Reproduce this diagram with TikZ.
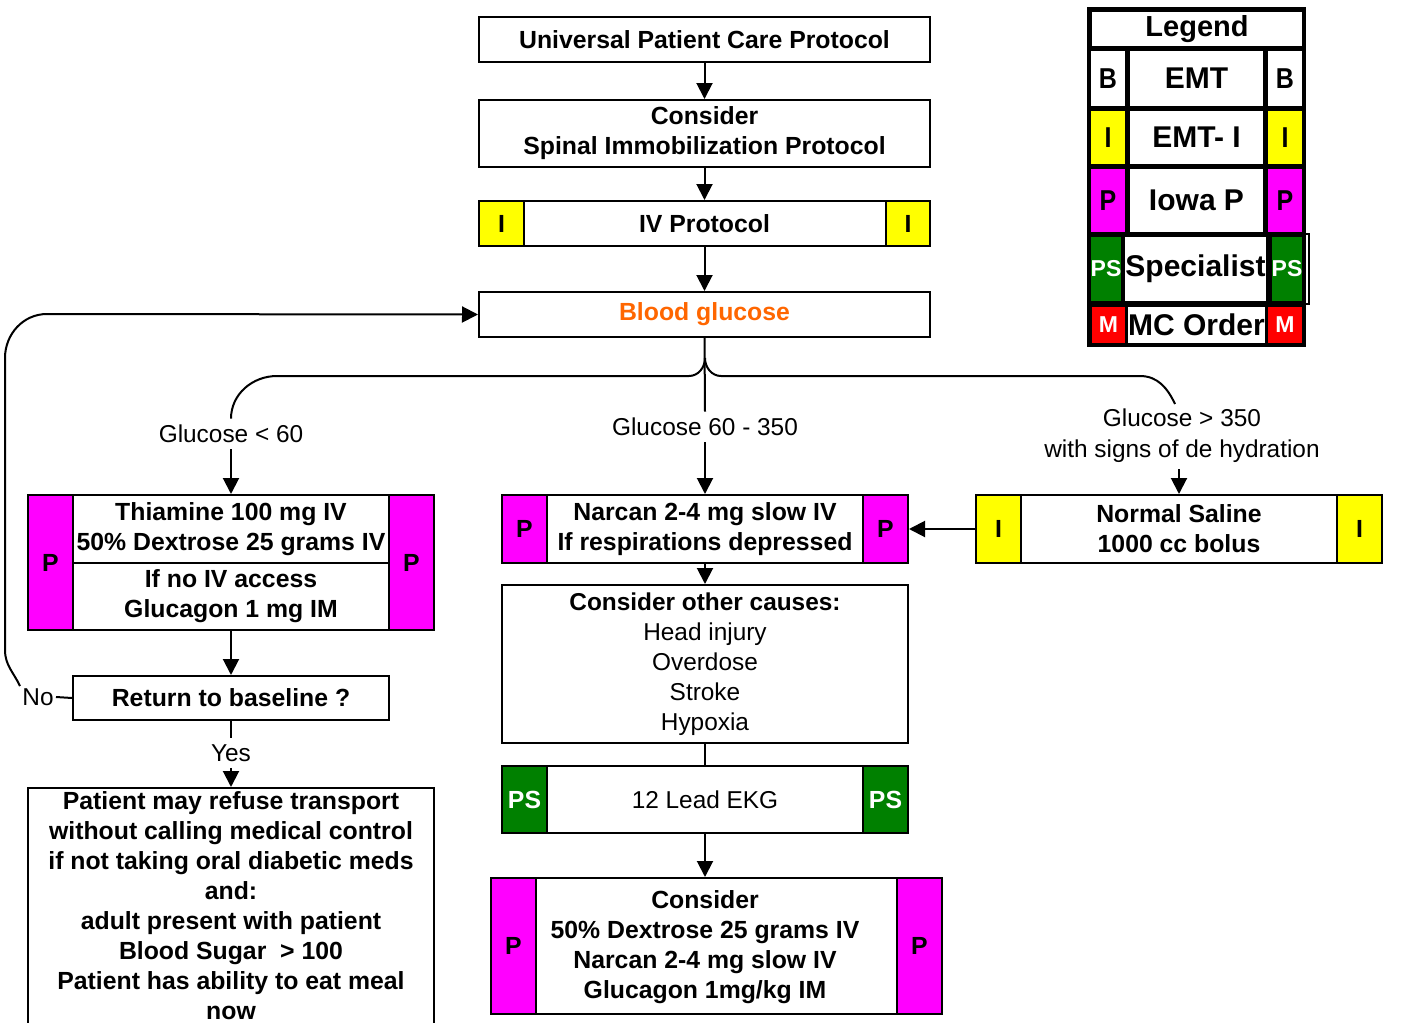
\documentclass[tikz,border=0pt]{standalone}
\usepackage{fontspec}
\usepackage{graphicx}
\setmainfont{Liberation Sans}
\usetikzlibrary{arrows.meta}
\definecolor{mag}{RGB}{255,0,255}
\definecolor{yel}{RGB}{255,255,0}
\definecolor{grn}{RGB}{0,128,0}
\definecolor{rd}{RGB}{255,0,0}
\definecolor{org}{RGB}{255,102,0}
\newcommand{\tallch}[1]{\scalebox{1}[1.15]{#1}}
\begin{document}
\begin{tikzpicture}[x=0.5pt,y=-0.5pt,
  px/.style 2 args={minimum width=#1*0.5pt, minimum height=#2*0.5pt},
  box/.style={draw=black, line width=1pt, fill=white, inner sep=0pt, align=center, font=\bfseries\fontsize{12.4}{15}\selectfont},
  tab/.style={draw=black, line width=1pt, inner sep=0pt, font=\bfseries\fontsize{12.4}{15}\selectfont},
  txt/.style={inner sep=0pt, align=center, font=\bfseries\fontsize{12.4}{15}\selectfont},
  lbl/.style={inner sep=3pt, align=center, font=\fontsize{12.2}{15.5}\selectfont},
  arr/.style={line width=1pt, -{Triangle[length=8pt,width=8pt]}},
  ln/.style={line width=1pt},
  lcell/.style={fill=white, inner sep=0pt, font=\bfseries\fontsize{15}{18}\selectfont},
  ltab/.style={inner sep=0pt, font=\bfseries\fontsize{12.5}{14}\selectfont},
]
\useasboundingbox (0,0) rectangle (1405,1023);

% ---- main column
\node[box,px={451}{45}] (univ) at (704.5,39.5) {Universal Patient Care Protocol};
\node[box,px={451}{67}] (spinal) at (704.5,133.5) {Consider\\Spinal Immobilization Protocol};
\node[box,px={451}{45}] (ivp) at (704.5,223.5) {IV Protocol};
\node[tab,fill=yel,px={45}{45}] (ivpL) at (501.5,223.5) {I};
\node[tab,fill=yel,px={44}{45}] (ivpR) at (908,223.5) {I};
\node[box,px={451}{45},text=org] (bg) at (704.5,314.5) {Blood glucose};

% ---- left branch
\node[box,px={406}{135}] (thia) at (231,562.5) {};
\node[tab,fill=mag,px={45}{135}] (thiaL) at (50.5,562.5) {P};
\node[tab,fill=mag,px={45}{135}] (thiaR) at (411.5,562.5) {P};
\node[box,px={316}{68}] (thiaA) at (231,529) {Thiamine 100 mg IV\\50\% Dextrose 25 grams IV};
\node[box,px={316}{67}] (thiaB) at (231,596.5) {If no IV access\\Glucagon 1 mg IM};
\node[box,px={316}{44}] (ret) at (231,698) {Return to baseline ?};
\node[box,px={406}{262}] (refuse) at (231,919) {};
\node[txt] (refuseT) at (231,906) {Patient may refuse transport\\without calling medical control\\if not taking oral diabetic meds\\and:\\adult present with patient\\Blood Sugar \ > 100\\Patient has ability to eat meal\\now};

% ---- middle branch
\node[box,px={406}{68}] (narcan) at (705,529) {Narcan 2-4 mg slow IV\\If respirations depressed};
\node[tab,fill=mag,px={45}{68}] (narcanL) at (524.5,529) {P};
\node[tab,fill=mag,px={45}{68}] (narcanR) at (885.5,529) {P};
\node[box,px={406}{158},font=\fontsize{12.2}{15}\selectfont] (other) at (705,664) {\textbf{Consider other causes:}\\Head injury\\Overdose\\Stroke\\Hypoxia};
\node[box,px={406}{67},font=\fontsize{12.2}{15}\selectfont] (ekg) at (705,799.5) {12 Lead EKG};
\node[tab,fill=grn,text=white,px={45}{67}] (ekgL) at (524.5,799.5) {PS};
\node[tab,fill=grn,text=white,px={45}{67}] (ekgR) at (885.5,799.5) {PS};
\node[box,px={451}{136}] (c2) at (716.5,946) {};
\node[tab,fill=mag,px={45}{136}] (c2L) at (513.5,946) {P};
\node[tab,fill=mag,px={45}{136}] (c2R) at (919.5,946) {P};
\node[txt] (c2T) at (705,947) {Consider\\50\% Dextrose 25 grams IV\\Narcan 2-4 mg slow IV\\Glucagon 1mg/kg IM};

% ---- right branch
\node[box,px={406}{68}] (saline) at (1179,529) {Normal Saline\\1000 cc bolus};
\node[tab,fill=yel,px={45}{68}] (salineL) at (998.5,529) {I};
\node[tab,fill=yel,px={45}{68}] (salineR) at (1359.5,529) {I};

% ---- labels
\node[lbl] (g1) at (231,434) {Glucose < 60};
\node[lbl] (g2) at (705,427) {Glucose 60 - 350};
\node[lbl] (g3) at (1182,436) {Glucose > 350\\with signs of de hydration};
\node[lbl] (yes) at (231,753) {Yes};
\node[lbl,inner sep=1pt] (no) at (38,697) {No};
\coordinate (split) at (705,358);
\coordinate (g3top) at (1175,404);

% ---- connectors
\draw[arr] (univ.south) -- (spinal.north);
\draw[arr] (spinal.south) -- (ivp.north);
\draw[arr] (ivp.south) -- (bg.north);
\draw[ln] (bg.south) -- (g2.north);
\draw[ln] (split) to[out=-90,in=0] (689,376) -- (277,376) to[out=180,in=90] (g1.north);
\draw[ln] (split) to[out=-90,in=180] (721,376) -- (1140,376) to[out=0,in=115] (g3top);
\draw[arr] (g1.south) -- (thia.north);
\draw[arr] (g2.south) -- (narcan.north);
\draw[arr] (saline.north |- g3.south) -- (saline.north);
\draw[arr] (saline.west) -- (narcan.east);
\draw[arr] (narcan.south) -- (other.north);
\draw[ln] (other.south) -- (ekg.north);
\draw[arr] (ekg.south) -- (ekg.south |- c2.north);
\draw[arr] (thia.south) -- (ret.north);
\draw[ln] (ret.south) -- (yes.north);
\draw[arr] (yes.south) -- (refuse.north);
\draw[ln] (ret.west) -- (no.east);
\draw[arr] (no.north west) to[out=115,in=-90] (5,650) -- (5,358) to[out=90,in=180] (47,314) -- (bg.west);

% ---- legend
\node[fill=black, inner sep=0pt, px={219}{340}] (lg) at (1196.5,177) {};
\node[draw=black, line width=1pt, inner sep=0pt, px={39}{70}] (lgPSbox) at (1289.5,269) {};
\node[lcell,px={210}{34},font=\bfseries\fontsize{14.5}{17}\selectfont] (lgT) at (1197,29) {Legend};
\node[ltab,fill=white,px={34}{55}] (lgB1) at (1108,78.5) {\tallch{B}};
\node[lcell,px={133}{55}] (lgEMT) at (1196.5,78.5) {EMT};
\node[ltab,fill=white,px={34}{55}] (lgB2) at (1285,78.5) {\tallch{B}};
\node[ltab,fill=yel,px={34}{53}] (lgI1) at (1108,137.5) {\tallch{I}};
\node[lcell,px={133}{53}] (lgEMTI) at (1196.5,137.5) {EMT- I};
\node[ltab,fill=yel,px={34}{53}] (lgI2) at (1285,137.5) {\tallch{I}};
\node[ltab,fill=mag,px={34}{63}] (lgP1) at (1108,200.5) {\tallch{P}};
\node[lcell,px={133}{63}] (lgIowa) at (1196.5,200.5) {Iowa P};
\node[ltab,fill=mag,px={34}{63}] (lgP2) at (1285,200.5) {\tallch{P}};
\node[ltab,fill=grn,text=white,px={30}{64},font=\bfseries\fontsize{11.5}{13}\selectfont] (lgPS1) at (1106,269) {PS};
\node[lcell,px={141}{64}] (lgSpec) at (1195.5,269) {Specialist};
\node[ltab,fill=grn,text=white,px={28}{64},font=\bfseries\fontsize{11.5}{13}\selectfont] (lgPS2) at (1287,269) {PS};
\node[ltab,fill=rd,text=white,px={33}{36},font=\bfseries\fontsize{11.5}{13}\selectfont] (lgM1) at (1108.5,325) {M};
\node[lcell,px={133}{36}] (lgMC) at (1196.5,325) {MC Order};
\node[ltab,fill=rd,text=white,px={34}{36},font=\bfseries\fontsize{11.5}{13}\selectfont] (lgM2) at (1285,325) {M};
\end{tikzpicture}
\end{document}
